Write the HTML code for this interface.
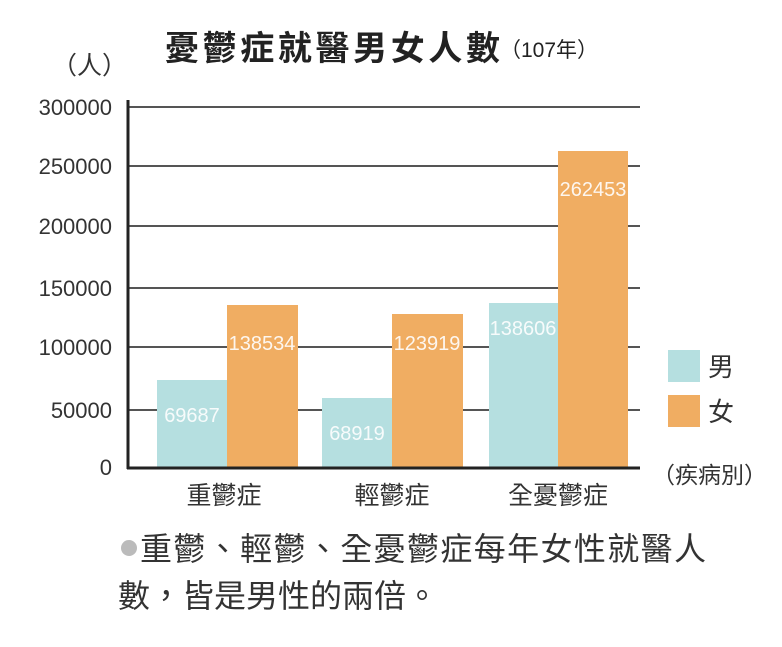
<!DOCTYPE html>
<html><head><meta charset="utf-8"><style>
body{margin:0;background:#fff;}
svg text{font-family:"Liberation Sans","Noto Sans CJK TC",sans-serif;}
</style></head><body>
<svg width="782" height="642" viewBox="0 0 782 642" xmlns="http://www.w3.org/2000/svg">
<rect width="782" height="642" fill="#fff"/>
<text x="165" y="60" font-size="34" font-weight="bold" fill="#222" textLength="335">憂鬱症就醫男女人數</text>
<text x="500" y="57" font-size="21" fill="#222">（107年）</text>
<text x="52" y="74" font-size="25" fill="#333">（人）</text>
<g stroke="#555" stroke-width="2">
<line x1="128" y1="107" x2="640" y2="107"/>
<line x1="128" y1="166" x2="640" y2="166"/>
<line x1="128" y1="226" x2="640" y2="226"/>
<line x1="128" y1="288" x2="640" y2="288"/>
<line x1="128" y1="347" x2="640" y2="347"/>
<line x1="128" y1="410" x2="640" y2="410"/>
</g>
<g font-size="22" fill="#333" text-anchor="end">
<text x="112" y="115">300000</text>
<text x="112" y="174">250000</text>
<text x="112" y="234">200000</text>
<text x="112" y="296">150000</text>
<text x="112" y="355">100000</text>
<text x="112" y="418">50000</text>
<text x="112" y="475">0</text>
</g>
<g fill="#b5dfe0">
<rect x="157" y="380" width="70" height="88"/>
<rect x="322" y="398" width="70" height="70"/>
<rect x="489" y="303" width="69" height="165"/>
</g>
<g fill="#f0ad62">
<rect x="227" y="305" width="71" height="163"/>
<rect x="392" y="314" width="71" height="154"/>
<rect x="558" y="151" width="70" height="317"/>
</g>
<line x1="128" y1="100" x2="128" y2="469" stroke="#222" stroke-width="3"/>
<line x1="127" y1="468" x2="640" y2="468" stroke="#222" stroke-width="3"/>
<g font-size="20" fill="#fff" text-anchor="middle" opacity="0.9">
<text x="192" y="422">69687</text>
<text x="262" y="350">138534</text>
<text x="357" y="440">68919</text>
<text x="427" y="350">123919</text>
<text x="523" y="335">138606</text>
<text x="593" y="196">262453</text>
</g>
<g font-size="25" fill="#333" text-anchor="middle">
<text x="224" y="504">重鬱症</text>
<text x="392" y="504">輕鬱症</text>
<text x="558" y="504">全憂鬱症</text>
</g>
<rect x="668" y="350" width="32" height="32" fill="#b5dfe0"/>
<rect x="668" y="395" width="32" height="32" fill="#f0ad62"/>
<text x="708" y="376" font-size="26" fill="#333">男</text>
<text x="708" y="421" font-size="26" fill="#333">女</text>
<text x="652" y="483" font-size="23" fill="#333">（疾病別）</text>
<circle cx="129" cy="548" r="8" fill="#bbb"/>
<text x="140" y="560" font-size="32" fill="#333" textLength="566">重鬱、輕鬱、全憂鬱症每年女性就醫人</text>
<text x="118" y="607" font-size="32" fill="#333">數，皆是男性的兩倍。</text>
</svg>
</body></html>
